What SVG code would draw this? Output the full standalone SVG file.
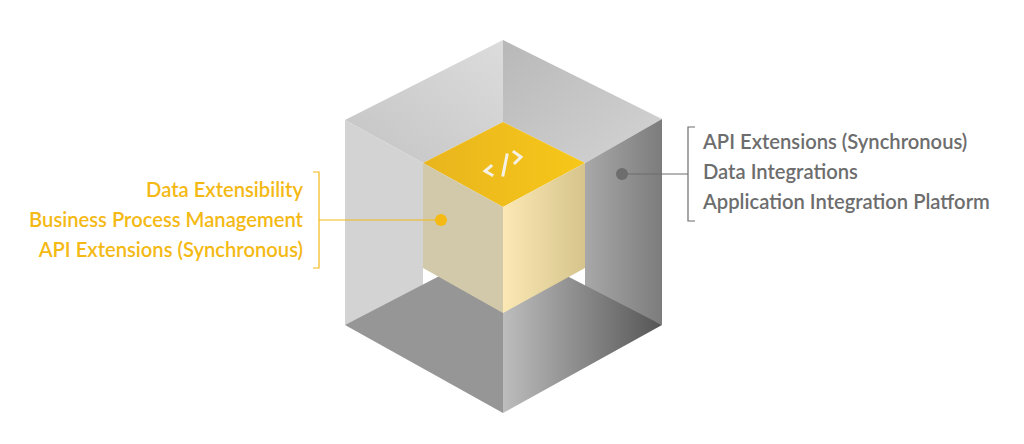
<svg xmlns="http://www.w3.org/2000/svg" width="1024" height="444" viewBox="0 0 1024 444">
<style>
.l{font-family:Lato,"Liberation Sans",sans-serif;font-size:20.2px;font-weight:600;fill:#f4b914;text-anchor:end}
.r{font-family:Lato,"Liberation Sans",sans-serif;font-size:20.2px;font-weight:600;fill:#6d6d6d}
</style>
<defs>
<linearGradient id="gtl" x1="0" y1="1" x2="1" y2="0"><stop offset="0" stop-color="#c4c4c4"/><stop offset="1" stop-color="#dcdcdc"/></linearGradient>
<linearGradient id="gtr" x1="0" y1="0" x2="1" y2="1"><stop offset="0" stop-color="#b8b8b8"/><stop offset="1" stop-color="#d4d4d4"/></linearGradient>
<linearGradient id="grw" x1="0" y1="0" x2="1" y2="0"><stop offset="0" stop-color="#a8a8a8"/><stop offset="1" stop-color="#7c7c7c"/></linearGradient>
<linearGradient id="gfr" x1="0" y1="0" x2="1" y2="0"><stop offset="0" stop-color="#bdbdbd"/><stop offset="1" stop-color="#555"/></linearGradient>
<linearGradient id="gyt" x1="0" y1="0" x2="1" y2="0"><stop offset="0" stop-color="#e9b51e"/><stop offset="1" stop-color="#f7c719"/></linearGradient>
<linearGradient id="gyr" x1="0" y1="0" x2="1" y2="0"><stop offset="0" stop-color="#fbe8b4"/><stop offset="1" stop-color="#d6c48c"/></linearGradient>
</defs>
<g id="cube">
<polygon points="345,120 503,40 503,122 423,163" fill="url(#gtl)"/>
<polygon points="503,40 662,119 585,163 503,122" fill="url(#gtr)"/>
<polygon points="345,120 423,163 423,290 345,325" fill="#d3d3d3"/>
<polygon points="662,119 662,325 585,290 585,163" fill="url(#grw)"/>
<polygon points="345,325 503,243 503,413" fill="#969696"/>
<polygon points="503,243 662,325 503,413" fill="url(#gfr)"/>
</g>
<g id="inner">
<polygon points="423,163 503,122 585,163 503,207" fill="url(#gyt)"/>
<polygon points="423,163 503,207 503,313 423,268" fill="#d1c9aa"/>
<polygon points="503,207 585,163 585,268 503,313" fill="url(#gyr)"/>
<g fill="none" stroke="#f4f1e6" stroke-width="3" stroke-linecap="square">
<polyline points="491,166 485,171 492,175"/>
<line x1="503" y1="175" x2="507" y2="155"/>
<polyline points="514,152 521,157 515,163"/>
</g>
</g>
<g id="connectors">
<polyline points="313,172 319,172 319,268 313,268" fill="none" stroke="#f4b914" stroke-width="1.2"/>
<line x1="319" y1="220" x2="441" y2="220" stroke="#f4b914" stroke-width="1.2"/>
<circle cx="441" cy="220" r="6" fill="#f4b914"/>
<polyline points="695,127 688,127 688,221 695,221" fill="none" stroke="#6d6d6d" stroke-width="1.2"/>
<line x1="622" y1="174" x2="688" y2="174" stroke="#6d6d6d" stroke-width="1.2"/>
<circle cx="622" cy="174" r="6" fill="#6d6d6d"/>
</g>
<g id="left-labels">
<text class="l" x="303" y="197">Data Extensibility</text>
<text class="l" x="303" y="227">Business Process Management</text>
<text class="l" x="303" y="257">API Extensions (Synchronous)</text>
</g>
<g id="right-labels">
<text class="r" x="703" y="149">API Extensions (Synchronous)</text>
<text class="r" x="703" y="179">Data Integrations</text>
<text class="r" x="703" y="209">Application Integration Platform</text>
</g>
</svg>
